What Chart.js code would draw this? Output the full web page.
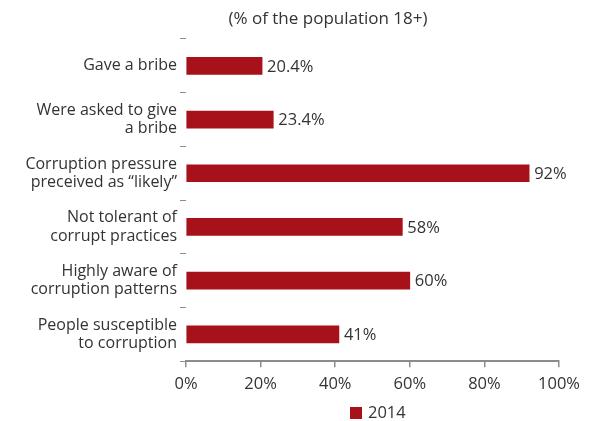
<!DOCTYPE html>
<html lang="en">

<head>
    <meta charset="UTF-8">
    <title>Corruption</title>
    <script src="https://cdn.jsdelivr.net/npm/chart.js"></script>
    <style>
        html, body {
            margin: 0;
            padding: 0;
            background: #fff;
        }

        #wrap {
            width: 592px;
            height: 421px;
        }
    </style>
</head>

<body>
    <div id="wrap"><canvas id="chart"></canvas></div>
    <script>
        // data
        var categories = [
            ['Gave a bribe'],
            ['Were asked to give', 'a bribe'],
            ['Corruption pressure', 'preceived as \u201clikely\u201d'],
            ['Not tolerant of', 'corrupt practices'],
            ['Highly aware of', 'corruption patterns'],
            ['People susceptible', 'to corruption']
        ];
        var values2014 = [20.4, 23.4, 92, 58, 60, 41];
        var valueLabels = ['20.4%', '23.4%', '92%', '58%', '60%', '41%'];
        var seriesName = '2014';
        var subtitle = '(% of the population 18+)';

        var FONT = '"Open Sans", "DejaVu Sans", sans-serif';
        var TEXT = '#333333';
        var RED = '#a6111a';
        var AXIS = '#8c8c8c';

        // values at end of bars + subtitle + legend
        var extras = {
            id: 'extras',
            afterDatasetsDraw: function (chart) {
                var ctx = chart.ctx;
                var meta = chart.getDatasetMeta(0);
                ctx.save();
                ctx.font = '16.5px ' + FONT;
                ctx.fillStyle = TEXT;
                ctx.textBaseline = 'middle';
                ctx.textAlign = 'left';
                meta.data.forEach(function (bar, i) {
                    ctx.fillText(valueLabels[i], bar.x + 5, bar.y + 1);
                });

                // subtitle
                ctx.font = '17px ' + FONT;
                ctx.textAlign = 'center';
                ctx.fillText(subtitle, 328, 19);

                // legend
                var lx = 350, ly = 407;
                ctx.fillStyle = RED;
                ctx.fillRect(lx, ly, 12, 12);
                ctx.fillStyle = TEXT;
                ctx.font = '16.5px ' + FONT;
                ctx.textAlign = 'left';
                ctx.fillText(seriesName, lx + 18, ly + 6);
                ctx.restore();
            }
        };

        new Chart(document.getElementById('chart'), {
            type: 'bar',
            data: {
                labels: categories,
                datasets: [{
                    label: seriesName,
                    data: values2014,
                    backgroundColor: RED,
                    barThickness: 17
                }]
            },
            options: {
                indexAxis: 'y',
                responsive: true,
                maintainAspectRatio: false,
                animation: false,
                layout: {
                    padding: { top: 39, right: 33, bottom: 20, left: 0 }
                },
                plugins: {
                    legend: { display: false },
                    title: { display: false },
                    tooltip: { enabled: false }
                },
                scales: {
                    x: {
                        min: 0,
                        max: 100,
                        ticks: {
                            stepSize: 20,
                            color: TEXT,
                            font: { family: FONT, size: 16.5 },
                            padding: 7,
                            callback: function (v) { return v + '%'; }
                        },
                        grid: {
                            drawOnChartArea: false,
                            drawTicks: true,
                            tickLength: 6,
                            color: AXIS,
                            lineWidth: 1.5
                        },
                        border: { display: true, color: AXIS, width: 2 }
                    },
                    y: {
                        afterFit: function (s) { s.width = 186; },
                        ticks: {
                            color: TEXT,
                            font: { family: FONT, size: 16, lineHeight: 1.15 },
                            padding: 3
                        },
                        grid: {
                            offset: true,
                            drawOnChartArea: false,
                            drawTicks: true,
                            tickLength: 6,
                            color: AXIS,
                            lineWidth: 1
                        },
                        border: { display: false }
                    }
                }
            },
            plugins: [extras]
        });
    </script>
</body>

</html>
